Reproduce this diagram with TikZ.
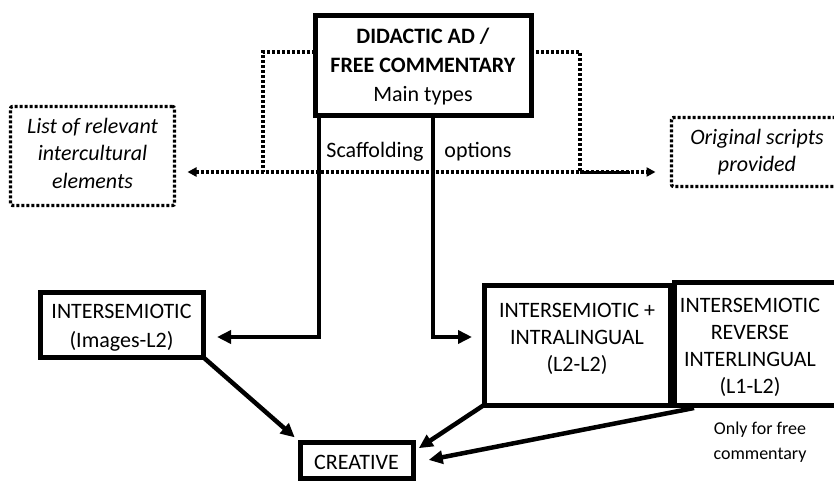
\documentclass[tikz,border=0pt]{standalone}
\usepackage{fontspec}
\setmainfont{Carlito}
\usetikzlibrary{arrows.meta}
\begin{document}
\begin{tikzpicture}[x=1pt,y=-1pt,
  box/.style={draw, line width=5pt, inner sep=0pt, outer sep=0pt, align=center,
    font=\fontsize{22}{28}\selectfont},
  dbox/.style={draw, line width=3.3pt, dash pattern=on 3pt off 2pt, rounded corners=2pt,
    inner sep=0pt, outer sep=0pt, align=center, font=\fontsize{22}{27}\selectfont\itshape},
  txt/.style={inner sep=0pt, align=center, font=\fontsize{22}{27}\selectfont},
  small/.style={inner sep=0pt, align=center, font=\fontsize{18}{25}\selectfont},
  conn/.style={line width=4.5pt, -{Triangle[length=14pt,width=13pt]}},
  dotl/.style={line width=3.3pt, dash pattern=on 3pt off 2pt},
  dotarr/.style={line width=3.3pt, dash pattern=on 3pt off 2pt,
    {Triangle[length=9pt,width=9pt]}-{Triangle[length=9pt,width=9pt]}},
]
\useasboundingbox (0,0) rectangle (834,482);

% boxes
\node[box, minimum width=216pt, minimum height=100pt] (main) at (423,65) {};
\node[txt, font=\fontsize{22}{29}\selectfont] (maintext) at (423,67)
  {\textbf{DIDACTIC AD /}\\\textbf{FREE COMMENTARY}\\Main types};
\node[dbox, minimum width=164pt, minimum height=99pt] (list) at (92.5,156) {};
\node[txt, font=\fontsize{22}{27.5}\selectfont\itshape] (listtext) at (92.5,153)
  {List of relevant\\intercultural\\elements};
\node[dbox, minimum width=171pt, minimum height=69pt] (orig) at (757,152)
  {Original scripts\\provided};
\node[box, minimum width=163pt, minimum height=65pt] (ints) at (121.5,324.5) {};
\node[txt, font=\fontsize{22}{29}\selectfont] (intstext) at (121.5,328)
  {INTERSEMIOTIC\\(Images-L2)};
\node[box, minimum width=186pt, minimum height=120pt] (intra) at (577,345) {};
\node[txt] (intratext) at (577,339) {INTERSEMIOTIC +\\INTRALINGUAL\\(L2-L2)};
\node[box, minimum width=172pt, minimum height=123pt, anchor=north west] (rev) at (674,282) {};
\node[txt] (revtext) at (750,347) {INTERSEMIOTIC\\REVERSE\\INTERLINGUAL\\(L1-L2)};
\node[box, minimum width=113pt, minimum height=36pt] (creative) at (356.5,460) {};
\node[txt] (creativetext) at (356.5,462) {CREATIVE};
\node[small] (note) at (760,442) {Only for free\\commentary};

% scaffolding labels
\node[txt] (scaf) at (375,152) {Scaffolding};
\node[txt] (opt) at (478,152) {options};

% dotted scaffolding connectors
\coordinate (hl) at (263,172);
\coordinate (hr) at (580,172);
\draw[dotl] ([yshift=13pt]main.west) -| (hl);
\draw[dotl] ([yshift=13pt]main.east) -| (hr);
\draw[dotarr, shorten <=13pt, shorten >=16pt] (list.east |- hl) -- (orig.west |- hr);
\draw[line width=3pt] (hr) -- ++(50,0);

% solid connectors
\draw[conn, shorten >=14pt] ([xshift=4pt]main.south west) |- ([yshift=-12.5pt]ints.east);
\draw[conn, shorten >=12pt] ([xshift=10pt]main.south) |- ([yshift=8pt]intra.west);
\draw[conn, shorten >=7pt] (ints.south east) -- (creative.north west);
\draw[conn, shorten >=7pt] (intra.south west) -- ([yshift=8pt]creative.east);
\draw[conn, shorten >=16pt] ([xshift=20pt, yshift=-3pt]rev.south west) -- ([yshift=-3pt]creative.east);
\end{tikzpicture}
\end{document}
